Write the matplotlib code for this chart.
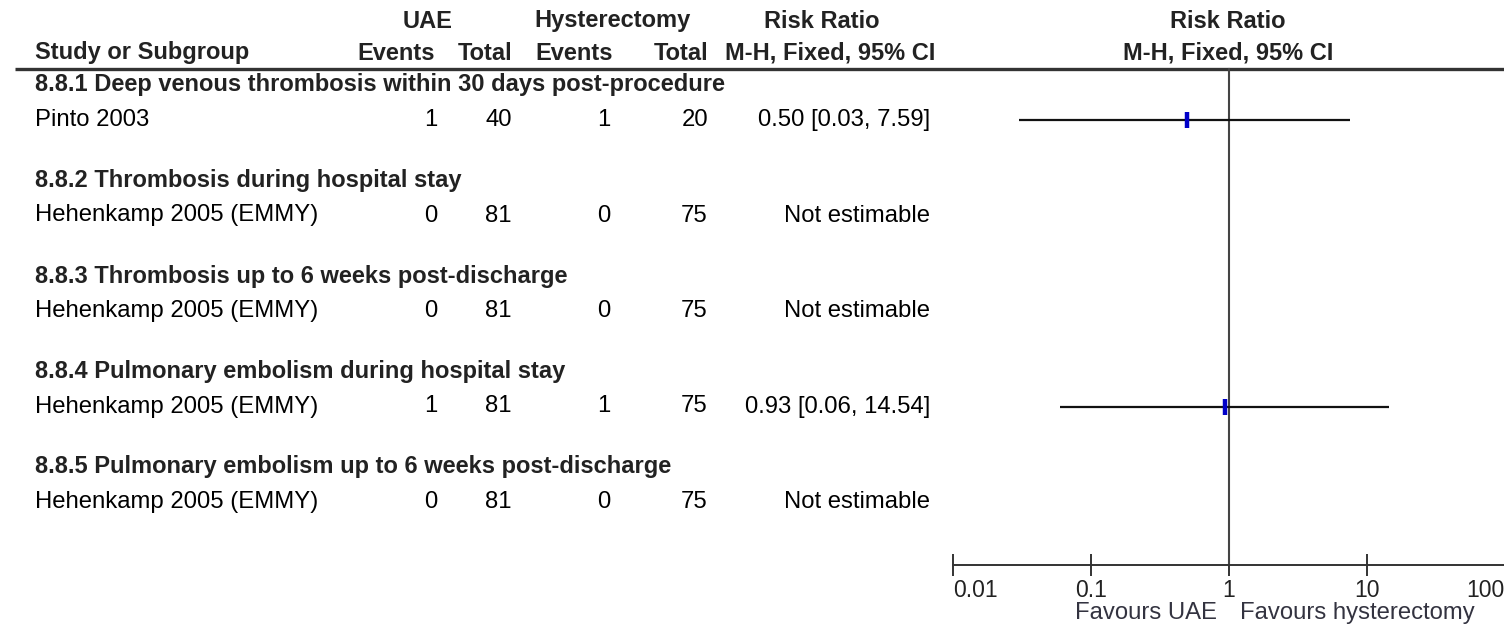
import matplotlib
matplotlib.use("Agg")
import matplotlib.pyplot as plt
from matplotlib.ticker import NullLocator

# ---------------- data ----------------
subgroups = [
    "8.8.1 Deep venous thrombosis within 30 days post-procedure",
    "8.8.2 Thrombosis during hospital stay",
    "8.8.3 Thrombosis up to 6 weeks post-discharge",
    "8.8.4 Pulmonary embolism during hospital stay",
    "8.8.5 Pulmonary embolism up to 6 weeks post-discharge",
]
studies = ["Pinto 2003", "Hehenkamp 2005 (EMMY)", "Hehenkamp 2005 (EMMY)",
           "Hehenkamp 2005 (EMMY)", "Hehenkamp 2005 (EMMY)"]
uae_events = [1, 0, 0, 1, 0]
uae_total = [40, 81, 81, 81, 81]
hyst_events = [1, 0, 0, 1, 0]
hyst_total = [20, 75, 75, 75, 75]
rr = [0.50, None, None, 0.93, None]
rr_low = [0.03, None, None, 0.06, None]
rr_high = [7.59, None, None, 14.54, None]
ticks = [0.01, 0.1, 1, 10, 100]
tick_labels = ["0.01", "0.1", "1", "10", "100"]

# ---------------- layout ----------------
W, H = 1504, 627
fig = plt.figure(figsize=(W / 100, H / 100), dpi=100)
tax = fig.add_axes([0, 0, 1, 1])
tax.set_xlim(0, W)
tax.set_ylim(H, 0)
tax.axis("off")

FAM = ["Liberation Sans", "DejaVu Sans"]
hs = 17      # bold header size (pt)
ds = 17.2    # data size (pt)
hc = "#222222"
dc = "#000000"

def ht(x, y, s, ha="left"):
    tax.text(x, y, s, ha=ha, va="center", fontsize=hs, fontweight="bold",
             family=FAM, color=hc)

def dt(x, y, s, ha="left"):
    tax.text(x, y, s, ha=ha, va="center", fontsize=ds, family=FAM, color=dc)

y1, y2, yline = 21, 53, 69
ht(428, y1, "UAE", "center")
ht(612, y1, "Hysterectomy", "center")
ht(822, y1, "Risk Ratio", "center")
ht(1228, y1, "Risk Ratio", "center")
ht(35, y2, "Study or Subgroup")
ht(435, y2, "Events", "right")
ht(512, y2, "Total", "right")
ht(535, y2, "Events", "left")
ht(708, y2, "Total", "right")
ht(830, y2, "M-H, Fixed, 95% CI", "center")
ht(1228, y2, "M-H, Fixed, 95% CI", "center")
tax.plot([15, W], [yline, yline], color="#333333", lw=2.4, solid_capstyle="butt")

hdr_y0, grp_step, row_step = 85, 95.5, 35
axis_y = 565

fax = fig.add_axes([953 / W, 0, 552 / W, 1])
fax.set_xscale("log")
fax.set_xlim(0.01, 100)
fax.set_ylim(H, 0)
fax.patch.set_alpha(0)
for s in ["top", "right", "left"]:
    fax.spines[s].set_visible(False)
fax.spines["bottom"].set_position(("data", axis_y))
fax.spines["bottom"].set_color("#333333")
fax.spines["bottom"].set_linewidth(1.4)
fax.set_yticks([])
fax.set_xticks(ticks)
fax.set_xticklabels(tick_labels, fontsize=16.5, family=FAM, color="#222222")
fax.xaxis.set_minor_locator(NullLocator())
fax.tick_params(axis="x", direction="inout", length=16, width=1.4, pad=2,
                color="#333333")
labs = fax.get_xticklabels()
labs[0].set_horizontalalignment("left")
labs[-1].set_horizontalalignment("right")
fax.plot([1, 1], [yline, axis_y], color="#444444", lw=1.5)

for i in range(len(subgroups)):
    yh = hdr_y0 + i * grp_step
    yd = yh + row_step
    ht(35, yh, subgroups[i])
    dt(35, yd, studies[i])
    dt(437, yd, str(uae_events[i]), "right")
    dt(512, yd, str(uae_total[i]), "right")
    dt(610, yd, str(hyst_events[i]), "right")
    dt(708, yd, str(hyst_total[i]), "right")
    if rr[i] is None:
        dt(930, yd, "Not estimable", "right")
    else:
        dt(930, yd, f"{rr[i]:.2f} [{rr_low[i]:.2f}, {rr_high[i]:.2f}]", "right")
        fax.plot([rr_low[i], rr_high[i]], [yd, yd], color="#111111", lw=1.6,
                 solid_capstyle="butt")
        fax.plot([rr[i], rr[i]], [yd - 8, yd + 8], color="#0000c8", lw=3.2,
                 solid_capstyle="butt")

tax.text(1217, 613, "Favours UAE", ha="right", va="center", fontsize=ds,
         family=FAM, color="#333340")
tax.text(1240, 613, "Favours hysterectomy", ha="left", va="center", fontsize=ds,
         family=FAM, color="#333340")

fig.savefig("out.png", dpi=100)
